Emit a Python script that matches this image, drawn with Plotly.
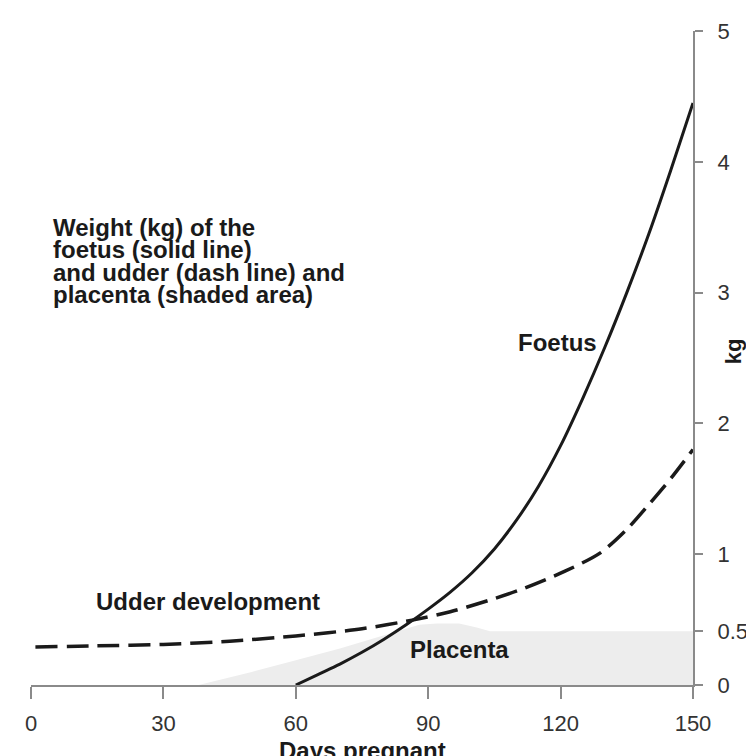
"""Weight of foetus, udder and placenta over days of pregnancy."""

import plotly.graph_objects as go

# foetus weight (kg), solid line
foetus_days = [60, 65, 70, 75, 80, 85, 90, 95, 100, 105, 110, 115, 120, 125, 130, 135, 140, 145, 150]
foetus_kg = [0.0, 0.08, 0.16, 0.25, 0.35, 0.46, 0.58, 0.71, 0.86, 1.04, 1.26, 1.52, 1.83, 2.19, 2.58, 3.00, 3.45, 3.94, 4.45]

# udder development (kg), dashed line
udder_days = [1, 15, 30, 45, 60, 75, 87, 95, 104, 111, 121, 129, 135, 140, 145, 150]
udder_kg = [0.29, 0.30, 0.31, 0.335, 0.375, 0.43, 0.50, 0.56, 0.65, 0.73, 0.87, 1.01, 1.19, 1.38, 1.58, 1.80]

# placenta (kg), shaded area
placenta_days = [38, 50, 60, 70, 80, 88, 92, 97, 101, 104, 150]
placenta_kg = [0.0, 0.10, 0.19, 0.28, 0.38, 0.46, 0.47, 0.47, 0.44, 0.41, 0.41]

x_ticks = [0, 30, 60, 90, 120, 150]
# the printed scale puts its "0.5" mark level with the placenta plateau
y_tickvals = [0, 0.41, 1, 2, 3, 4, 5]
y_ticktext = ["0", "0.5", "1", "2", "3", "4", "5"]

note_lines = [
    "Weight (kg) of the",
    "foetus (solid line)",
    "and udder (dash line) and",
    "placenta (shaded area)",
]

FONT = "Liberation Sans, Arial, Helvetica, sans-serif"
INK = "#1a1a1a"
AXIS = "#8a8a8a"

fig = go.Figure()

fig.add_trace(go.Scatter(
    x=placenta_days, y=placenta_kg, mode="lines",
    fill="tozeroy", fillcolor="#ededed",
    line=dict(width=0, color="#ededed"),
    name="Placenta", hoverinfo="x+y",
))
fig.add_trace(go.Scatter(
    x=udder_days, y=udder_kg, mode="lines",
    line=dict(color=INK, width=3.5, dash="22px,9px", shape="spline", smoothing=0.8),
    name="Udder",
))
fig.add_trace(go.Scatter(
    x=foetus_days, y=foetus_kg, mode="lines",
    line=dict(color=INK, width=3, shape="spline", smoothing=1.0),
    name="Foetus",
))

bold = dict(family=FONT, size=24, color=INK)

# in-plot labels (the note block is set with tight leading, one line each)
for i, line in enumerate(note_lines):
    fig.add_annotation(x=4.6, y=3.50 - i * 0.172, text=f"<b>{line}</b>", showarrow=False,
                       xanchor="left", yanchor="middle", font=bold)
fig.add_annotation(x=40.2, y=0.64, text="<b>Udder development</b>", showarrow=False, font=bold)
fig.add_annotation(x=97.0, y=0.27, text="<b>Placenta</b>", showarrow=False, font=bold)
fig.add_annotation(x=119.2, y=2.62, text="<b>Foetus</b>", showarrow=False, font=bold)

# axis titles
fig.add_annotation(xref="paper", yref="paper", x=1.083, y=0.511, text="<b>kg</b>",
                   textangle=-90, showarrow=False, font=dict(family=FONT, size=22, color=INK))
fig.add_annotation(xref="paper", yref="paper", x=0.5015, y=-0.076, yanchor="top",
                   text="<b>Days pregnant</b>", showarrow=False, font=bold)

fig.update_xaxes(
    range=[0, 150], tickvals=x_ticks, showgrid=False, zeroline=False,
    showline=True, linecolor=AXIS, linewidth=2,
    ticks="outside", ticklen=12, tickwidth=2, tickcolor=AXIS,
    ticklabelstandoff=6,
    tickfont=dict(family=FONT, size=22, color="#333333"),
)
fig.update_yaxes(
    range=[0, 5], side="right", tickvals=y_tickvals, ticktext=y_ticktext,
    showgrid=False, zeroline=False,
    showline=True, linecolor=AXIS, linewidth=2,
    ticks="outside", ticklen=8, tickwidth=2, tickcolor=AXIS,
    ticklabelstandoff=10,
    tickfont=dict(family=FONT, size=22, color="#333333"),
)

fig.update_layout(
    width=754, height=756,
    margin=dict(l=23, r=69, t=23, b=79),
    plot_bgcolor="white", paper_bgcolor="white",
    showlegend=False,
    font=dict(family=FONT),
)

fig.write_html("out.html")
